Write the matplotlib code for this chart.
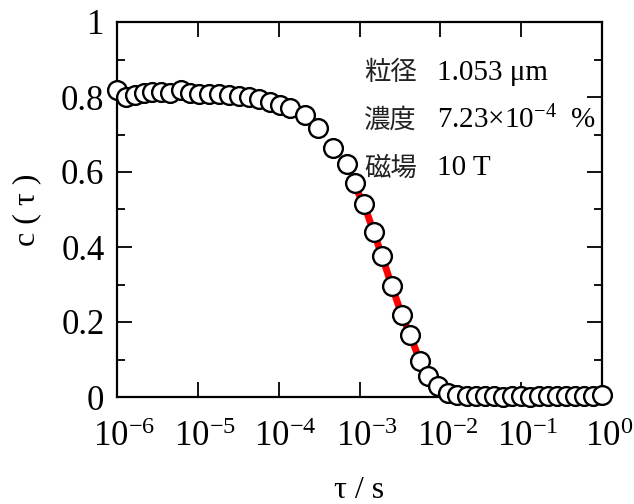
import numpy as np
import matplotlib
matplotlib.use("Agg")
from matplotlib import pyplot as plt
from matplotlib import transforms
from matplotlib.ticker import FixedLocator, MultipleLocator, NullLocator

# lag time tau (s) and correlation c(tau)
tau = [1.00e-6, 1.29e-6, 1.65e-6, 2.17e-6, 2.73e-6, 3.53e-6, 4.55e-6, 6.22e-6,
       8.02e-6, 1.04e-5, 1.38e-5, 1.84e-5, 2.45e-5, 3.26e-5, 4.35e-5, 5.79e-5,
       7.71e-5, 1.03e-4, 1.37e-4, 2.10e-4, 3.04e-4, 4.66e-4, 6.97e-4, 8.77e-4,
       1.13e-3, 1.50e-3, 1.89e-3, 2.52e-3, 3.35e-3, 4.23e-3, 5.63e-3, 7.10e-3,
       9.44e-3, 1.26e-2, 1.63e-2, 2.11e-2, 2.73e-2, 3.53e-2, 4.56e-2, 5.89e-2,
       7.62e-2, 9.85e-2, 0.127, 0.165, 0.213, 0.275, 0.356, 0.460, 0.594,
       0.768, 1.00]
c_tau = [0.820, 0.800, 0.805, 0.812, 0.813, 0.813, 0.810, 0.820,
         0.810, 0.808, 0.808, 0.807, 0.806, 0.803, 0.800, 0.795,
         0.786, 0.778, 0.770, 0.752, 0.717, 0.664, 0.622, 0.571,
         0.515, 0.440, 0.377, 0.295, 0.218, 0.165, 0.095, 0.055,
         0.030, 0.012, 0.005, 0.003, 0.004, 0.003, 0.002, 0.000,
         0.004, 0.002, 0.001, 0.003, 0.004, 0.002, 0.003, 0.004, 0.003,
         0.004, 0.005]

# fitted curve (red), read along the red segment
fit_tau = [9.6e-4, 1.13e-3, 1.50e-3, 1.89e-3, 2.52e-3, 3.35e-3, 4.23e-3, 5.63e-3, 6.5e-3]
fit_c = [0.545, 0.515, 0.440, 0.377, 0.295, 0.218, 0.165, 0.095, 0.070]

xticks = [1e-6, 1e-5, 1e-4, 1e-3, 1e-2, 1e-1, 1e0]
xtick_labels = [r"$10^{\mathrm{-6}}$", r"$10^{\mathrm{-5}}$", r"$10^{\mathrm{-4}}$",
                r"$10^{\mathrm{-3}}$", r"$10^{\mathrm{-2}}$", r"$10^{\mathrm{-1}}$",
                r"$10^{0}$"]
yticks = [0, 0.2, 0.4, 0.6, 0.8, 1]
ytick_labels = ["0", "0.2", "0.4", "0.6", "0.8", "1"]

labels_jp = ["粒径", "濃度", "磁場"]
labels_val = [r"1.053 μm", r"7.23$\times$10$^{-4}$  %", r"10 T"]

plt.rcParams["font.family"] = ["Liberation Serif", "Noto Sans CJK JP"]
plt.rcParams["mathtext.fontset"] = "custom"
plt.rcParams["mathtext.rm"] = "Liberation Serif"
plt.rcParams["mathtext.it"] = "Liberation Serif:italic"

fig = plt.figure(figsize=(6.34, 5.04), dpi=100)
ax = fig.add_axes([117 / 634, 1 - 397 / 504, (602 - 117) / 634, (397 - 22) / 504])

ax.plot(fit_tau, fit_c, color="red", lw=5, zorder=2, solid_capstyle="butt")
ax.plot(tau, c_tau, "o", ms=13.5, mfc="white", mec="black", mew=1.7,
        clip_on=False, zorder=3)

ax.set_xscale("log")
ax.set_xlim(1e-6, 1)
ax.set_ylim(0, 1)

ax.xaxis.set_major_locator(FixedLocator(xticks))
ax.xaxis.set_minor_locator(NullLocator())
ax.set_xticklabels(xtick_labels)
ax.set_yticks(yticks)
ax.set_yticklabels(ytick_labels)
ax.yaxis.set_minor_locator(MultipleLocator(0.1))

ax.tick_params(which="both", direction="in", top=True, right=True, width=1.3,
               labelsize=25)
ax.tick_params(which="major", length=11)
ax.tick_params(which="minor", length=6)
ax.tick_params(axis="y", pad=9)
ax.tick_params(axis="x", pad=17)
for s in ax.spines.values():
    s.set_linewidth(1.6)

# shift x tick labels so the "10" sits over the tick
shift = transforms.ScaledTranslation(7 / 100, 0, fig.dpi_scale_trans)
for lab in ax.get_xticklabels():
    lab.set_transform(lab.get_transform() + shift)

ax.set_xlabel("τ / s", fontsize=23, labelpad=16)
ax.set_ylabel("c ( τ )", fontsize=23, labelpad=14)

ypos = [0.864, 0.739, 0.611]
for i in range(3):
    ax.text(0.51, ypos[i], labels_jp[i], transform=ax.transAxes, fontsize=19,
            va="center", ha="left", family=["Noto Sans CJK JP"], color="#222222")
    ax.text(0.66, ypos[i], labels_val[i], transform=ax.transAxes, fontsize=21,
            va="center", ha="left")

fig.savefig("out.png", dpi=100)
